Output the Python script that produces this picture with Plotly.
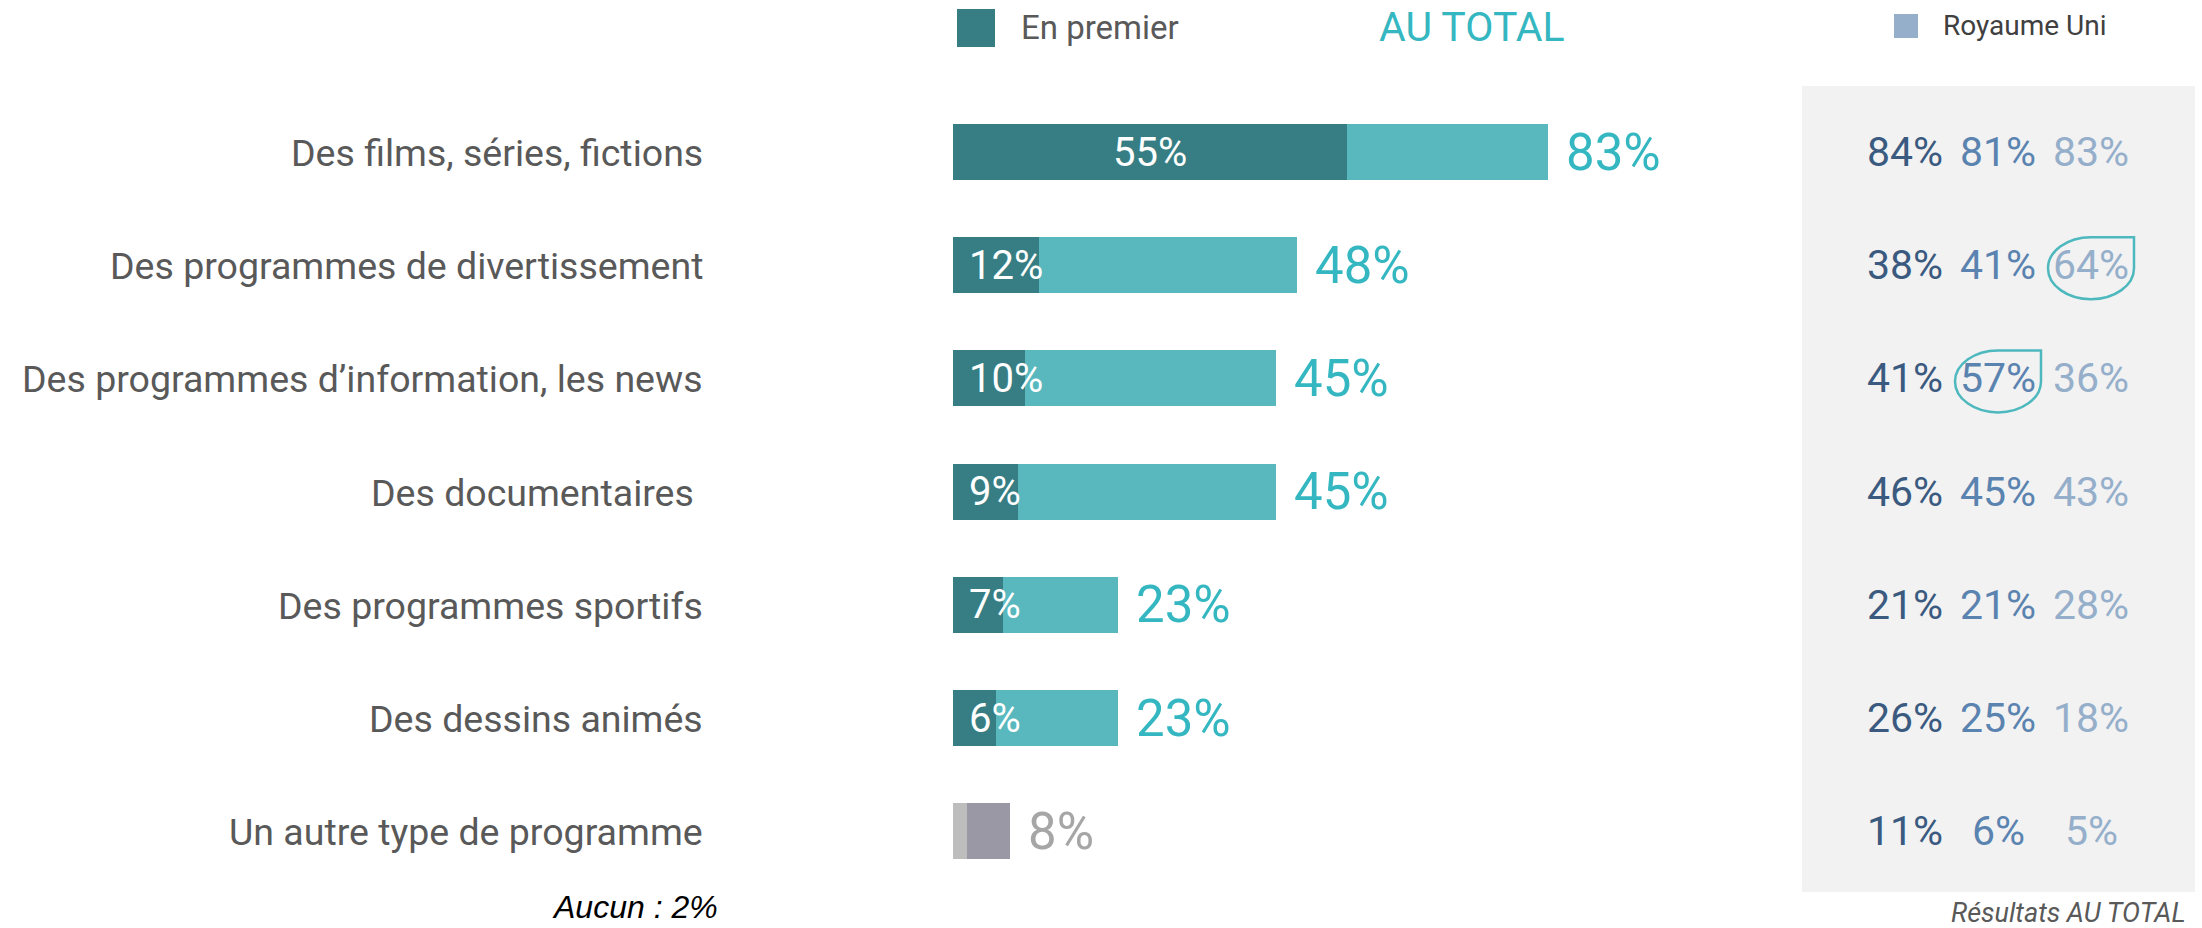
import plotly.graph_objects as go

# ---------------- data ----------------
categories = [
    "Des films, séries, fictions",
    "Des programmes de divertissement",
    "Des programmes d\u2019information, les news",
    "Des documentaires\u00a0",
    "Des programmes sportifs",
    "Des dessins animés",
    "Un autre type de programme",
]
en_premier = [55, 12, 10, 9, 7, 6, 2]
au_total = [83, 48, 45, 45, 23, 23, 8]

# right panel (three comparison columns)
col_a = [84, 38, 41, 46, 21, 26, 11]
col_b = [81, 41, 57, 45, 21, 25, 6]
col_c = [83, 64, 36, 43, 28, 18, 5]
highlights = [(1, 2), (2, 1)]  # (row, column) circled values

legend_premier = "En premier"
legend_total = "AU TOTAL"
legend_country = "Royaume Uni"
note_left = "Aucun : 2%"
note_right = "Résultats AU TOTAL"

# ---------------- layout constants ----------------
W, H = 2202, 928
X0_PX = 953.0          # pixel where 0% lies
PX_PER_PCT = 7.169
ROW0_PX = 152.0
ROW_STEP = 113.2

x_range = [-X0_PX / PX_PER_PCT, (W - X0_PX) / PX_PER_PCT]
y_range = [(H - ROW0_PX) / ROW_STEP, -ROW0_PX / ROW_STEP]

DARK = "#367E83"
LIGHT = "#58B8BE"
TEAL_TXT = "#35B7C1"
GREY_TXT = "#595959"
COLS_COLORS = ["#3A5A80", "#5A83B0", "#95AFCB"]
COLS_X_PX = [1905, 1998, 2091]

n = len(categories)
dark_colors = [DARK] * (n - 1) + ["#BDBDBD"]
light_colors = [LIGHT] * (n - 1) + ["#9B98A5"]
total_colors = [TEAL_TXT] * (n - 1) + ["#A6A6A6"]
rest = [t - p for t, p in zip(au_total, en_premier)]

FONT = "Roboto"

fig = go.Figure()
fig.add_trace(go.Bar(
    y=categories, x=en_premier, orientation="h",
    marker=dict(color=dark_colors, line=dict(width=0)),
    width=0.495, hoverinfo="skip", showlegend=False,
))
fig.add_trace(go.Bar(
    y=categories, x=rest, base=en_premier, orientation="h",
    marker=dict(color=light_colors, line=dict(width=0)),
    width=0.495, hoverinfo="skip", showlegend=False,
))

annotations = []
shapes = []


def px_x(px):
    return px / W


def px_y(py):
    return 1 - py / H


# category labels
for cat in categories:
    annotations.append(dict(
        x=px_x(705), xref="paper", y=cat, yref="y", text=cat, showarrow=False,
        xanchor="right", yanchor="middle", yshift=-1,
        font=dict(family=FONT, size=37.5, color=GREY_TXT),
    ))

# inside labels (en premier)
for i, (cat, p) in enumerate(zip(categories, en_premier)):
    if i == n - 1:
        continue
    if p >= 20:
        annotations.append(dict(
            x=p / 2, xref="x", y=cat, yref="y", text=f"{p}%", showarrow=False,
            xanchor="center", yanchor="middle",
            font=dict(family=FONT, size=40, color="white"),
        ))
    else:
        annotations.append(dict(
            x=0, xref="x", y=cat, yref="y", text=f"{p}%", showarrow=False,
            xanchor="left", yanchor="middle", xshift=14,
            font=dict(family=FONT, size=40, color="white"),
        ))

# total labels
for cat, t, c in zip(categories, au_total, total_colors):
    annotations.append(dict(
        x=t, xref="x", y=cat, yref="y", text=f"{t}%", showarrow=False,
        xanchor="left", yanchor="middle", xshift=16,
        font=dict(family=FONT, size=51, color=c),
    ))

# right grey panel
shapes.append(dict(
    type="rect", xref="paper", yref="paper",
    x0=px_x(1802), x1=px_x(2195), y0=px_y(892), y1=px_y(86),
    fillcolor="#F2F2F2", line=dict(width=0), layer="below",
))

for cat, a, b, c in zip(categories, col_a, col_b, col_c):
    for v, cx, colr in zip((a, b, c), COLS_X_PX, COLS_COLORS):
        annotations.append(dict(
            x=px_x(cx), xref="paper", y=cat, yref="y", text=f"{v}%",
            showarrow=False, xanchor="center", yanchor="middle",
            font=dict(family=FONT, size=41, color=colr),
        ))

# teardrop highlights
RX, RY, K = 43.0, 31.0, 0.5523
for row, col in highlights:
    cx = COLS_X_PX[col]
    cy = ROW0_PX + ROW_STEP * row + 3
    pts = [
        ("M", [(cx, cy - RY)]),
        ("L", [(cx + RX, cy - RY)]),
        ("L", [(cx + RX, cy)]),
        ("C", [(cx + RX, cy + K * RY), (cx + K * RX, cy + RY), (cx, cy + RY)]),
        ("C", [(cx - K * RX, cy + RY), (cx - RX, cy + K * RY), (cx - RX, cy)]),
        ("C", [(cx - RX, cy - K * RY), (cx - K * RX, cy - RY), (cx, cy - RY)]),
    ]
    path = ""
    for cmd, plist in pts:
        path += cmd + " " + " ".join(f"{px_x(x):.5f},{px_y(y):.5f}" for x, y in plist) + " "
    path += "Z"
    shapes.append(dict(type="path", xref="paper", yref="paper", path=path,
                       line=dict(color="#4DB8BE", width=2.5), fillcolor="rgba(0,0,0,0)"))

# legend items
shapes.append(dict(type="rect", xref="paper", yref="paper",
                   x0=px_x(957), x1=px_x(995), y0=px_y(47), y1=px_y(9),
                   fillcolor=DARK, line=dict(width=0)))
annotations.append(dict(x=px_x(1019), xref="paper", y=px_y(28), yref="paper",
                        text=legend_premier, showarrow=False, xanchor="left", yanchor="middle",
                        font=dict(family=FONT, size=33, color=GREY_TXT)))
annotations.append(dict(x=px_x(1472), xref="paper", y=px_y(27), yref="paper",
                        text=legend_total, showarrow=False, xanchor="center", yanchor="middle",
                        font=dict(family=FONT, size=41, color=TEAL_TXT)))
shapes.append(dict(type="rect", xref="paper", yref="paper",
                   x0=px_x(1894), x1=px_x(1918), y0=px_y(38), y1=px_y(14),
                   fillcolor=COLS_COLORS[2], line=dict(width=0)))
annotations.append(dict(x=px_x(1941), xref="paper", y=px_y(25), yref="paper",
                        text=legend_country, showarrow=False, xanchor="left", yanchor="middle",
                        font=dict(family=FONT, size=28, color="#404040")))

# notes
annotations.append(dict(x=px_x(550), xref="paper", y=px_y(907), yref="paper",
                        text=f"<i>{note_left}</i>", showarrow=False, xanchor="left", yanchor="middle",
                        font=dict(family="Liberation Sans, Arial", size=32, color="black")))
annotations.append(dict(x=px_x(2188), xref="paper", y=px_y(913), yref="paper",
                        text=f"<i>{note_right}</i>", showarrow=False, xanchor="right", yanchor="middle",
                        font=dict(family=FONT, size=27, color=GREY_TXT)))

fig.update_layout(
    width=W, height=H,
    margin=dict(l=0, r=0, t=0, b=0),
    paper_bgcolor="white", plot_bgcolor="rgba(0,0,0,0)",
    barmode="overlay", bargap=0,
    xaxis=dict(range=x_range, showgrid=False, zeroline=False, showticklabels=False,
               fixedrange=True),
    yaxis=dict(type="category", categoryorder="array", categoryarray=categories,
               range=y_range, showgrid=False, zeroline=False, showticklabels=False,
               fixedrange=True),
    annotations=annotations,
    shapes=shapes,
    showlegend=False,
)

fig.write_html(
    "out.html",
    config={"displayModeBar": False},
    post_script="document.body.style.margin='0';document.body.style.overflow='hidden';",
)
